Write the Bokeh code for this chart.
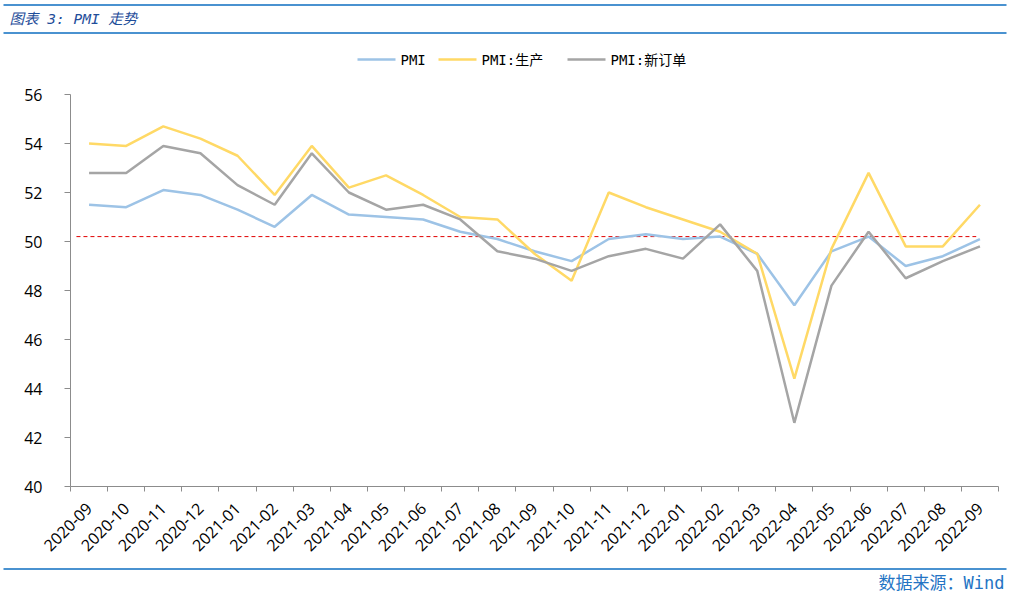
import math
from bokeh.plotting import figure
from bokeh.layouts import column
from bokeh.models import FixedTicker, Range1d
from bokeh.core.properties import value
from bokeh.embed import file_html
from bokeh.resources import INLINE

months = ["2020-09", "2020-10", "2020-11", "2020-12", "2021-01", "2021-02", "2021-03",
          "2021-04", "2021-05", "2021-06", "2021-07", "2021-08", "2021-09", "2021-10",
          "2021-11", "2021-12", "2022-01", "2022-02", "2022-03", "2022-04", "2022-05",
          "2022-06", "2022-07", "2022-08", "2022-09"]
pmi = [51.5, 51.4, 52.1, 51.9, 51.3, 50.6, 51.9, 51.1, 51.0, 50.9, 50.4, 50.1, 49.6, 49.2,
       50.1, 50.3, 50.1, 50.2, 49.5, 47.4, 49.6, 50.2, 49.0, 49.4, 50.1]
production = [54.0, 53.9, 54.7, 54.2, 53.5, 51.9, 53.9, 52.2, 52.7, 51.9, 51.0, 50.9, 49.5,
              48.4, 52.0, 51.4, 50.9, 50.4, 49.5, 44.4, 49.7, 52.8, 49.8, 49.8, 51.5]
new_orders = [52.8, 52.8, 53.9, 53.6, 52.3, 51.5, 53.6, 52.0, 51.3, 51.5, 50.9, 49.6, 49.3,
              48.8, 49.4, 49.7, 49.3, 50.7, 48.8, 42.6, 48.2, 50.4, 48.5, 49.2, 49.8]
series_names = ["PMI", "PMI:生产", "PMI:新订单"]
series_colors = ["#9DC3E6", "#FFD966", "#A5A5A5"]
ref_level = 50.2
y_ticks = [40, 42, 44, 46, 48, 50, 52, 54, 56]
title_text = "图表 3: PMI 走势"
source_text = "数据来源：Wind"

W = 1009
HEAD_H = 80
FOOT_H = 35
MAIN_H = 595 - HEAD_H - FOOT_H
FL, FR = 70, 998
FT, FB = 94 - HEAD_H, 486 - HEAD_H
rule_color = "#0E6EC0"
mono_cjk = "DejaVu Sans Mono, Noto Sans CJK SC"


def pixel_figure(h):
    f = figure(width=W, height=h, output_backend="svg", toolbar_location=None,
               x_range=Range1d(0, W), y_range=Range1d(h, 0), min_border=0,
               x_axis_location=None, y_axis_location=None, frame_align=False)
    f.outline_line_color = None
    f.xgrid.visible = False
    f.ygrid.visible = False
    f.background_fill_color = "white"
    f.border_fill_color = "white"
    return f


# ---------- header: title, rules, legend ----------
head = pixel_figure(HEAD_H)
head.segment(x0=[3, 3], y0=[4.5, 32.5], x1=[1006, 1006], y1=[4.5, 32.5],
             line_color=rule_color, line_width=1.5)
head.text(x=[9], y=[18], text=[title_text], text_font=value(mono_cjk),
          text_font_style="italic", text_font_size="14.5px", text_color="#1F4E9A",
          text_baseline="middle", text_align="left")
leg_x0 = [357, 438, 567]
leg_len = 38
head.segment(x0=leg_x0, y0=[59] * 3, x1=[x + leg_len for x in leg_x0], y1=[59] * 3,
             line_color=series_colors, line_width=2.5)
head.text(x=[x + leg_len + 5 for x in leg_x0], y=[59] * 3, text=series_names,
          text_font=value(mono_cjk), text_font_size="14px",
          text_color="#000000", text_baseline="middle", text_align="left")

# ---------- main chart ----------
n = len(months)
xs = [i + 0.5 for i in range(n)]

p = figure(width=W, height=MAIN_H, output_backend="svg", toolbar_location=None,
           x_range=Range1d(0, n), y_range=Range1d(40, 56),
           min_border_left=FL, min_border_right=W - FR,
           min_border_top=FT, min_border_bottom=MAIN_H - FB, frame_align=False)
p.outline_line_color = None
p.xgrid.visible = False
p.ygrid.visible = False
p.background_fill_color = "white"
p.border_fill_color = "white"

axis_color = "#8C8C8C"
p.xaxis.ticker = FixedTicker(ticks=xs, minor_ticks=list(range(n + 1)))
p.xaxis.major_label_overrides = {x: m for x, m in zip(xs, months)}
p.xaxis.major_tick_out = 0
p.xaxis.major_tick_in = 0
p.xaxis.minor_tick_out = 5
p.xaxis.minor_tick_in = 0
p.xaxis.minor_tick_line_color = axis_color
p.xaxis.axis_line_color = axis_color
p.xaxis.major_label_orientation = math.pi / 4
p.xaxis.major_label_standoff = 14
p.xaxis.major_label_text_font = "Open Sans"
p.xaxis.major_label_text_font_size = "16px"
p.xaxis.major_label_text_color = "#000000"

p.yaxis.ticker = FixedTicker(ticks=y_ticks)
p.yaxis.minor_tick_line_color = None
p.yaxis.major_tick_out = 6
p.yaxis.major_tick_in = 0
p.yaxis.major_tick_line_color = axis_color
p.yaxis.axis_line_color = axis_color
p.yaxis.major_label_standoff = 22
p.yaxis.major_label_text_font = "Open Sans"
p.yaxis.major_label_text_font_size = "16px"
p.yaxis.major_label_text_color = "#000000"

p.segment(x0=[0.16], y0=[ref_level], x1=[24.4], y1=[ref_level],
          line_color="#E00000", line_width=1, line_dash="4 3")

for vals, c in zip([pmi, production, new_orders], series_colors):
    p.line(xs, vals, line_color=c, line_width=2.5)

# ---------- footer ----------
foot = pixel_figure(FOOT_H)
foot.segment(x0=[3], y0=[8.5], x1=[1006], y1=[8.5], line_color=rule_color, line_width=1.5)
foot.text(x=[1004], y=[22], text=[source_text], text_font=value(mono_cjk),
          text_font_size="17px", text_color="#2474C4",
          text_baseline="middle", text_align="right")

layout = column(head, p, foot, spacing=0)
open("out.html", "w").write(file_html(layout, INLINE))
